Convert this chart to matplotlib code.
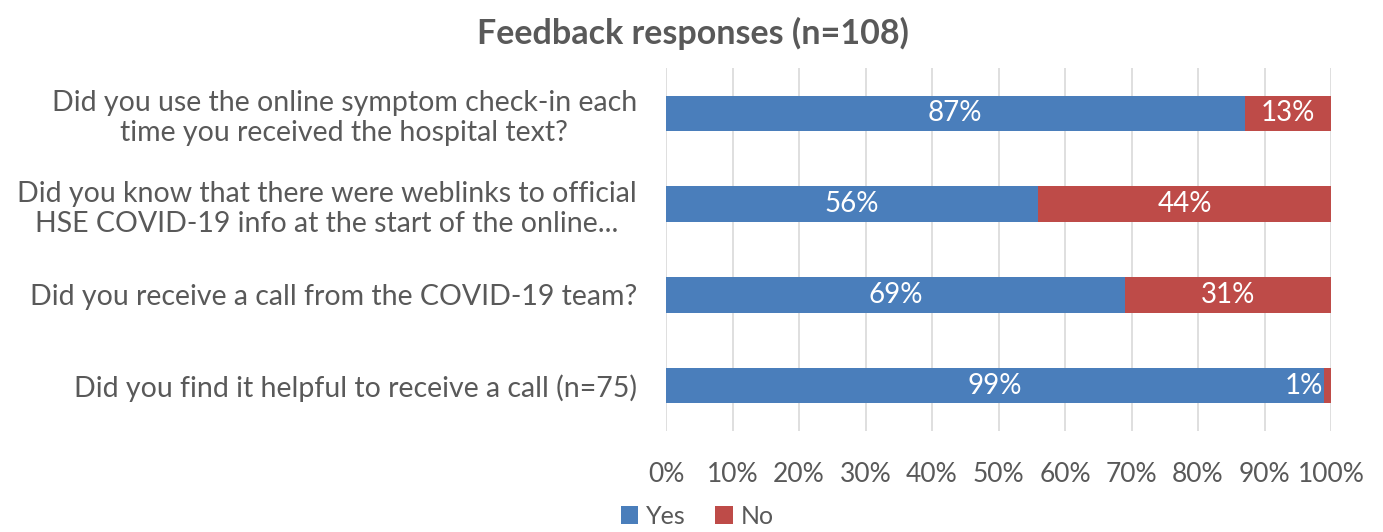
import numpy as np
import matplotlib.pyplot as plt

plt.rcParams['font.family'] = ['Lato', 'DejaVu Sans']

questions = [
    'Did you use the online symptom check-in each\ntime you received the hospital text?',
    'Did you know that there were weblinks to official\nHSE COVID-19 info at the start of the online...',
    'Did you receive a call from the COVID-19 team?',
    'Did you find it helpful to receive a call (n=75)',
]
yes_pct = [87, 56, 69, 99]
no_pct = [13, 44, 31, 1]
xticks = np.arange(0, 101, 10)

blue = '#4A7EBB'
red = '#BE4B48'
grey = '#595959'

fig = plt.figure(figsize=(13.83, 5.32), dpi=100)
ax = fig.add_axes([666 / 1383, 1 - 431 / 532, 665 / 1383, 363 / 532])

y = np.arange(len(questions))
h = 0.39
bars_yes = ax.barh(y, yes_pct, height=h, color=blue, label='Yes', zorder=3)
bars_no = ax.barh(y, no_pct, left=yes_pct, height=h, color=red, label='No', zorder=3)

# white value labels inside each segment
for i in range(len(questions)):
    ax.text(yes_pct[i] / 2, y[i], f'{yes_pct[i]}%', ha='center', va='center',
            color='white', fontsize=20, zorder=4)
    if no_pct[i] >= 5:
        ax.text(yes_pct[i] + no_pct[i] / 2, y[i], f'{no_pct[i]}%', ha='center',
                va='center', color='white', fontsize=20, zorder=4)
    else:
        ax.text(yes_pct[i] + no_pct[i] - 1.2, y[i], f'{no_pct[i]}%', ha='right',
                va='center', color='white', fontsize=20, zorder=4)

ax.set_xlim(0, 100)
ax.set_ylim(len(questions) - 0.5, -0.5)
ax.set_xticks(xticks)
ax.set_xticklabels([f'{t}%' for t in xticks])
ax.set_yticks(y)
ax.set_yticklabels(questions)
for lbl in ax.get_yticklabels():
    lbl.set_multialignment('center')

ax.tick_params(axis='x', length=0, pad=22, labelsize=19, labelcolor=grey)
ax.tick_params(axis='y', length=0, pad=21, labelsize=20.5, labelcolor=grey)
ax.grid(axis='x', color='#D9D9D9', linewidth=1.2, zorder=0)
for s in ax.spines.values():
    s.set_visible(False)

fig.suptitle('Feedback responses (n=108)', x=693 / 1383, y=1 - 33 / 532, va='center',
             fontsize=24.5, fontweight='bold', color=grey)

fig.legend(handles=[bars_yes, bars_no], labels=['Yes', 'No'], loc='center',
           bbox_to_anchor=(697 / 1383, 1 - 516 / 532), ncol=2, frameon=False,
           fontsize=18, labelcolor=grey, handlelength=0.7, handleheight=0.7,
           handletextpad=0.3, columnspacing=1.2, borderpad=0.1)

fig.savefig('out.png', dpi=100)
